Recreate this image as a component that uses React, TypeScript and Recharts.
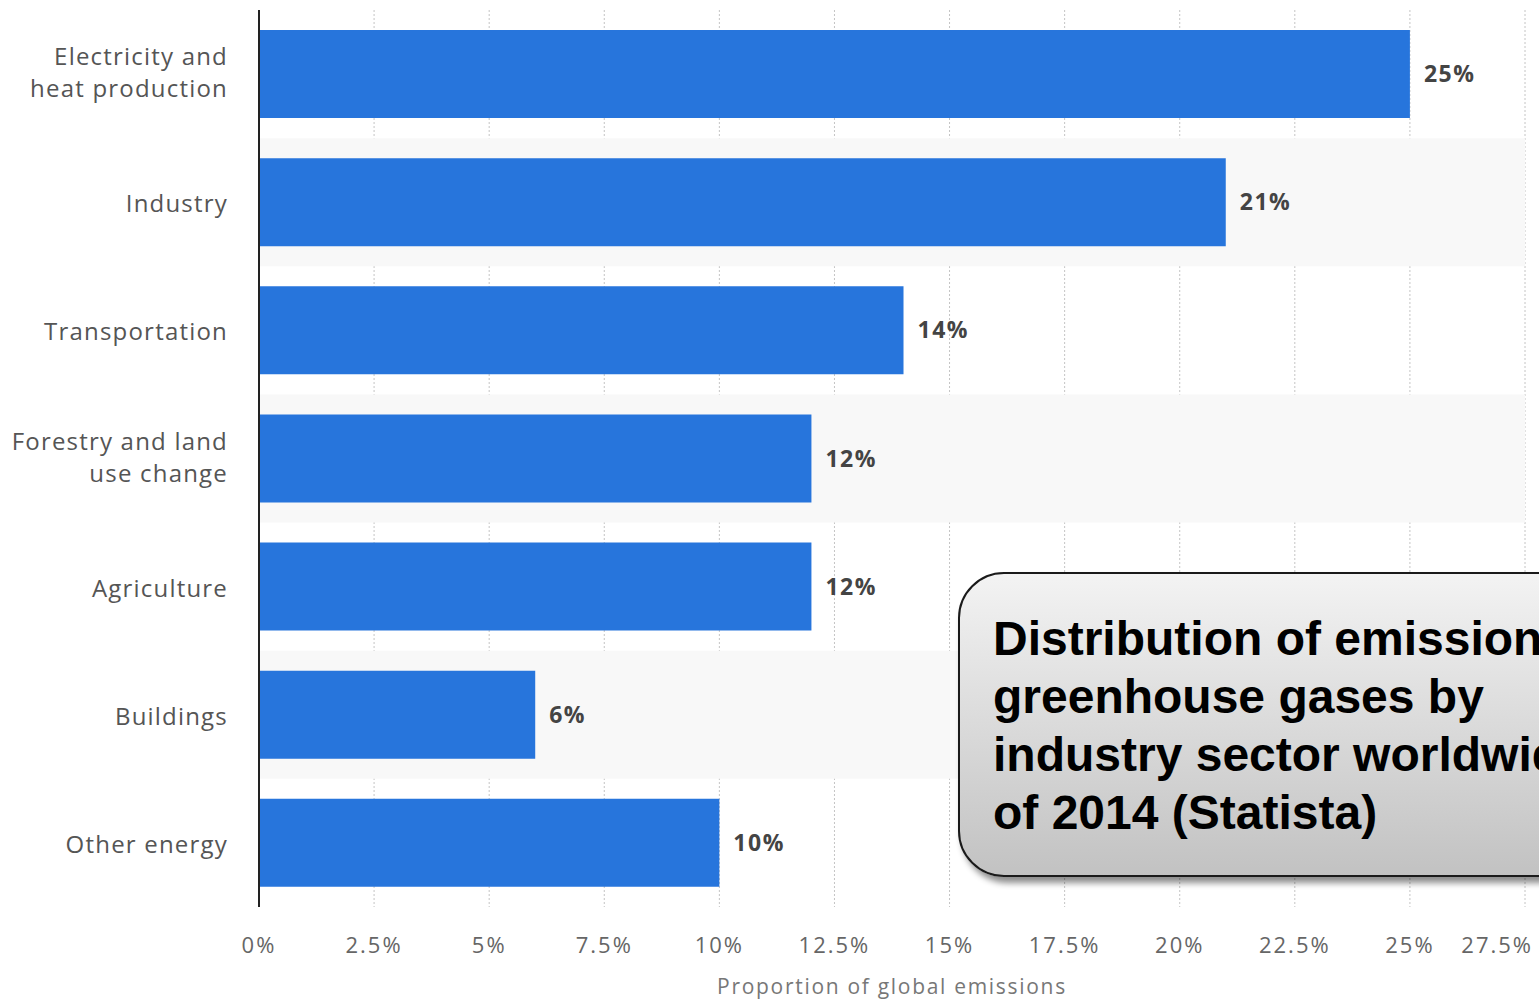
import React from 'react';
import { BarChart, Bar, XAxis, YAxis, CartesianGrid, LabelList, ReferenceArea } from 'recharts';

const sectors = [
  'Electricity and heat production',
  'Industry',
  'Transportation',
  'Forestry and land use change',
  'Agriculture',
  'Buildings',
  'Other energy',
];
const sectorLines = [
  ['Electricity and', 'heat production'],
  ['Industry'],
  ['Transportation'],
  ['Forestry and land', 'use change'],
  ['Agriculture'],
  ['Buildings'],
  ['Other energy'],
];
const shares = [25, 21, 14, 12, 12, 6, 10];
const xTicks = [0, 2.5, 5, 7.5, 10, 12.5, 15, 17.5, 20, 22.5, 25, 27.5];
const stripedSectors = sectors.filter((_, i) => i % 2 === 1);
const captionLines = [
  'Distribution of emissions of',
  'greenhouse gases by',
  'industry sector worldwide as',
  'of 2014 (Statista)',
];

const data = sectors.map((sector, i) => ({ sector, share: shares[i] }));

const FONT = '"Open Sans", sans-serif';

const SectorTick = (props: any) => {
  const { x, y, payload } = props;
  const lines = sectorLines[sectors.indexOf(payload.value)] || [payload.value];
  const first = lines.length > 1 ? -17 + 8 : 10;
  return (
    <text x={x - 29} y={y} textAnchor="end" fill="#555" fontSize={24} letterSpacing={1.2} fontFamily={FONT}>
      {lines.map((l, i) => (
        <tspan key={i} x={x - 29} dy={i === 0 ? first : 32}>
          {l}
        </tspan>
      ))}
    </text>
  );
};

const PercentTick = (props: any) => {
  const { x, y, payload } = props;
  const last = payload.value === xTicks[xTicks.length - 1];
  return (
    <text
      x={last ? x + 8 : x}
      y={y + 44}
      textAnchor={last ? 'end' : 'middle'}
      fill="#666"
      fontSize={22}
      letterSpacing={2}
      fontFamily={FONT}
    >
      {`${payload.value}%`}
    </text>
  );
};

export default function App() {
  return (
    <div style={{ position: 'fixed', left: 0, top: 0, width: 1539, height: 999, overflow: 'hidden', background: '#fff' }}>
      <BarChart
        width={1539}
        height={999}
        data={data}
        layout="vertical"
        margin={{ top: 10, right: 14, bottom: 0, left: 0 }}
        barCategoryGap="15.6%"
      >
        {stripedSectors.map((s) => (
          <ReferenceArea key={s} y1={s} y2={s} fill="#f8f8f8" fillOpacity={1} stroke="none" />
        ))}
        <CartesianGrid horizontal={false} strokeDasharray="2 2" stroke="#c4c4c4" />
        <XAxis
          type="number"
          domain={[0, 27.5]}
          ticks={xTicks}
          axisLine={false}
          tickLine={false}
          tickSize={0}
          height={92}
          tick={<PercentTick />}
          interval={0}
          label={{ value: 'Proportion of global emissions', position: 'insideBottom', offset: 5, fill: '#777', fontSize: 21, letterSpacing: 1.7, fontFamily: FONT }}
        />
        <YAxis
          type="category"
          dataKey="sector"
          width={259}
          axisLine={{ stroke: '#222', strokeWidth: 2 }}
          tickLine={false}
          tickSize={0}
          tick={<SectorTick />}
          interval={0}
        />
        <Bar dataKey="share" fill="#2775dc" isAnimationActive={false}>
          <LabelList
            dataKey="share"
            position="right"
            offset={14}
            formatter={(v: any) => `${v}%`}
            fill="#444"
            fontSize={23}
            fontWeight="bold"
            letterSpacing={1.5}
            fontFamily={FONT}
          />
        </Bar>
      </BarChart>
      <div
        style={{
          position: 'absolute',
          left: 958,
          top: 572,
          width: 660,
          height: 305,
          borderRadius: 46,
          border: '2px solid #1a1a1a',
          background: 'linear-gradient(#f3f3f3, #c2c2c2)',
          boxShadow: '4px 6px 6px rgba(0,0,0,0.45)',
          boxSizing: 'border-box',
          padding: '36px 0 0 33px',
          fontFamily: '"Liberation Sans", Arial, sans-serif',
          fontWeight: 'bold',
          fontSize: 48,
          lineHeight: '58px',
          color: '#000',
          whiteSpace: 'nowrap',
        }}
      >
        {captionLines.map((l) => (
          <div key={l}>{l}</div>
        ))}
      </div>
    </div>
  );
}
